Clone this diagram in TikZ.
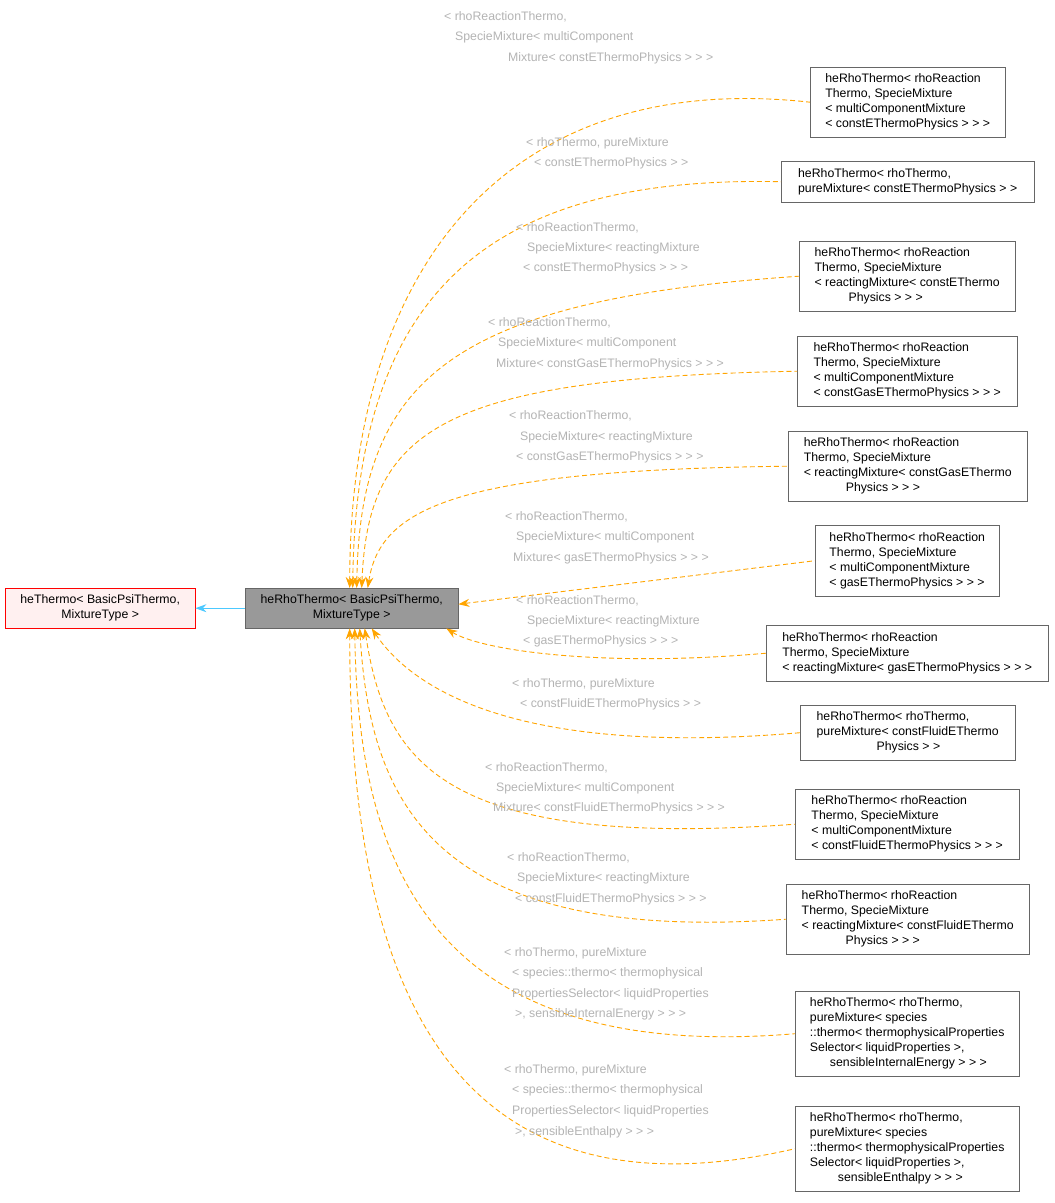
\documentclass[tikz,border=0pt]{standalone}
\usepackage{fontspec}
\setmainfont{Liberation Sans}
\usetikzlibrary{arrows.meta}
\definecolor{edgeor}{HTML}{FFA500}
\definecolor{lblgray}{HTML}{B4B4B4}
\definecolor{boxgray}{HTML}{666666}
\begin{document}
\begin{tikzpicture}[x=1pt,y=-1pt,
  box/.style={draw=boxgray,fill=white,anchor=north west,align=left,inner sep=0pt,font=\fontsize{12.3}{15}\selectfont},
  lbl/.style={anchor=west,text=lblgray,inner sep=0pt,font=\fontsize{12.3}{15}\selectfont},
  edge/.style={draw=edgeor,dashed,dash pattern=on 5pt off 3pt,line width=0.9pt,{Stealth[length=11pt,width=8pt,fill=edgeor]}-}]
\useasboundingbox (0,0) rectangle (1055,1203);
\fill[white] (0,0) rectangle (1055,1203);
\newcommand{\bx}[6]{\node[box,minimum width=#4-#2,minimum height=#5-#3] (#1) at (#2,#3) {}; \node[anchor=center,align=left,inner sep=0pt,font=\fontsize{12.3}{15}\selectfont] at (#1.center) {#6};}
% left nodes
\node[draw=red,fill=red!6,minimum width=190,minimum height=40,inner sep=0pt,anchor=north west,align=center,font=\fontsize{12.3}{15}\selectfont] (he) at (5,588) {heThermo< BasicPsiThermo,\\MixtureType >};
\node[draw=boxgray,fill=black!40,minimum width=213,minimum height=40,inner sep=0pt,anchor=north west,align=center,font=\fontsize{12.3}{15}\selectfont] (m) at (245,588) {heRhoThermo< BasicPsiThermo,\\MixtureType >};
\draw[draw=blue!30!cyan!70,line width=0.9pt,{Stealth[length=11pt,width=8pt]}-] (he.east) -- (m.west);
% right nodes
\bx{n1}{810}{67}{1005}{137}{heRhoThermo< rhoReaction\\Thermo, SpecieMixture\\< multiComponentMixture\\< constEThermoPhysics > > >}
\bx{n2}{781}{161}{1034}{202}{heRhoThermo< rhoThermo,\\ pureMixture< constEThermoPhysics > >}
\bx{n3}{799}{241}{1015}{311}{heRhoThermo< rhoReaction\\Thermo, SpecieMixture\\< reactingMixture< constEThermo\\\hspace*{34pt}Physics > > >}
\bx{n4}{797}{336}{1017}{406}{heRhoThermo< rhoReaction\\Thermo, SpecieMixture\\< multiComponentMixture\\< constGasEThermoPhysics > > >}
\bx{n5}{788}{431}{1027}{501}{heRhoThermo< rhoReaction\\Thermo, SpecieMixture\\< reactingMixture< constGasEThermo\\\hspace*{42pt}Physics > > >}
\bx{n6}{815}{525}{999}{596}{heRhoThermo< rhoReaction\\Thermo, SpecieMixture\\< multiComponentMixture\\< gasEThermoPhysics > > >}
\bx{n7}{766}{625}{1048}{681}{heRhoThermo< rhoReaction\\Thermo, SpecieMixture\\< reactingMixture< gasEThermoPhysics > > >}
\bx{n8}{800}{705}{1015}{760}{heRhoThermo< rhoThermo,\\ pureMixture< constFluidEThermo\\\hspace*{60pt}Physics > >}
\bx{n9}{795}{789}{1019}{859}{heRhoThermo< rhoReaction\\Thermo, SpecieMixture\\< multiComponentMixture\\< constFluidEThermoPhysics > > >}
\bx{n10}{786}{884}{1029}{954}{heRhoThermo< rhoReaction\\Thermo, SpecieMixture\\< reactingMixture< constFluidEThermo\\\hspace*{44pt}Physics > > >}
\bx{n11}{795}{991}{1019}{1076}{heRhoThermo< rhoThermo,\\ pureMixture< species\\ ::thermo< thermophysicalProperties\\Selector< liquidProperties >,\\\hspace*{20pt}sensibleInternalEnergy > > >}
\bx{n12}{795}{1106}{1019}{1191}{heRhoThermo< rhoThermo,\\ pureMixture< species\\ ::thermo< thermophysicalProperties\\Selector< liquidProperties >,\\\hspace*{28pt}sensibleEnthalpy > > >}
% edges
\path[edge] ([xshift=-2pt]m.north) .. controls (350,250) and (520,70) .. (n1.west);
\path[edge] ([xshift=1pt]m.north) .. controls (356,300) and (480,175) .. (n2.west);
\path[edge] ([xshift=5pt]m.north) .. controls (360,380) and (450,300) .. (n3.west);
\path[edge] ([xshift=10pt]m.north) .. controls (368,430) and (440,378) .. (n4.west);
\path[edge] ([xshift=16pt]m.north) .. controls (380,510) and (450,470) .. (n5.west);
\path[edge] ([yshift=4pt]m.east) -- (n6.west);
\path[edge] ([xshift=-12pt]m.south east) .. controls (480,650) and (600,668) .. (n7.west);
\path[edge] ([xshift=20pt]m.south) .. controls (420,700) and (540,755) .. (n8.west);
\path[edge] ([xshift=13pt]m.south) .. controls (385,760) and (440,850) .. (n9.west);
\path[edge] ([xshift=8pt]m.south) .. controls (370,800) and (430,945) .. (n10.west);
\path[edge] ([xshift=3pt]m.south) .. controls (358,850) and (420,1065) .. (n11.west);
\path[edge] ([xshift=-2pt]m.south) .. controls (350,900) and (400,1240) .. (n12.west);
% labels
\node[lbl] at (444,17) {< rhoReactionThermo,};
\node[lbl] at (455,37) {SpecieMixture< multiComponent};
\node[lbl] at (508,58) {Mixture< constEThermoPhysics > > >};
\node[lbl] at (526,143) {< rhoThermo, pureMixture};
\node[lbl] at (534,163) {< constEThermoPhysics > >};
\node[lbl] at (516,228) {< rhoReactionThermo,};
\node[lbl] at (527,248) {SpecieMixture< reactingMixture};
\node[lbl] at (523,268) {< constEThermoPhysics > > >};
\node[lbl] at (488,323) {< rhoReactionThermo,};
\node[lbl] at (498,343) {SpecieMixture< multiComponent};
\node[lbl] at (496,364) {Mixture< constGasEThermoPhysics > > >};
\node[lbl] at (509,416) {< rhoReactionThermo,};
\node[lbl] at (520,437) {SpecieMixture< reactingMixture};
\node[lbl] at (516,457) {< constGasEThermoPhysics > > >};
\node[lbl] at (505,517) {< rhoReactionThermo,};
\node[lbl] at (516,537) {SpecieMixture< multiComponent};
\node[lbl] at (513,558) {Mixture< gasEThermoPhysics > > >};
\node[lbl] at (516,601) {< rhoReactionThermo,};
\node[lbl] at (527,621) {SpecieMixture< reactingMixture};
\node[lbl] at (523,641) {< gasEThermoPhysics > > >};
\node[lbl] at (512,684) {< rhoThermo, pureMixture};
\node[lbl] at (520,704) {< constFluidEThermoPhysics > >};
\node[lbl] at (485,768) {< rhoReactionThermo,};
\node[lbl] at (496,788) {SpecieMixture< multiComponent};
\node[lbl] at (493,808) {Mixture< constFluidEThermoPhysics > > >};
\node[lbl] at (507,858) {< rhoReactionThermo,};
\node[lbl] at (517,878) {SpecieMixture< reactingMixture};
\node[lbl] at (515,899) {< constFluidEThermoPhysics > > >};
\node[lbl] at (504,953) {< rhoThermo, pureMixture};
\node[lbl] at (512,973) {< species::thermo< thermophysical};
\node[lbl] at (512,994) {PropertiesSelector< liquidProperties};
\node[lbl] at (515,1014) {>, sensibleInternalEnergy > > >};
\node[lbl] at (504,1070) {< rhoThermo, pureMixture};
\node[lbl] at (512,1090) {< species::thermo< thermophysical};
\node[lbl] at (512,1111) {PropertiesSelector< liquidProperties};
\node[lbl] at (515,1132) {>, sensibleEnthalpy > > >};
\end{tikzpicture}
\end{document}
